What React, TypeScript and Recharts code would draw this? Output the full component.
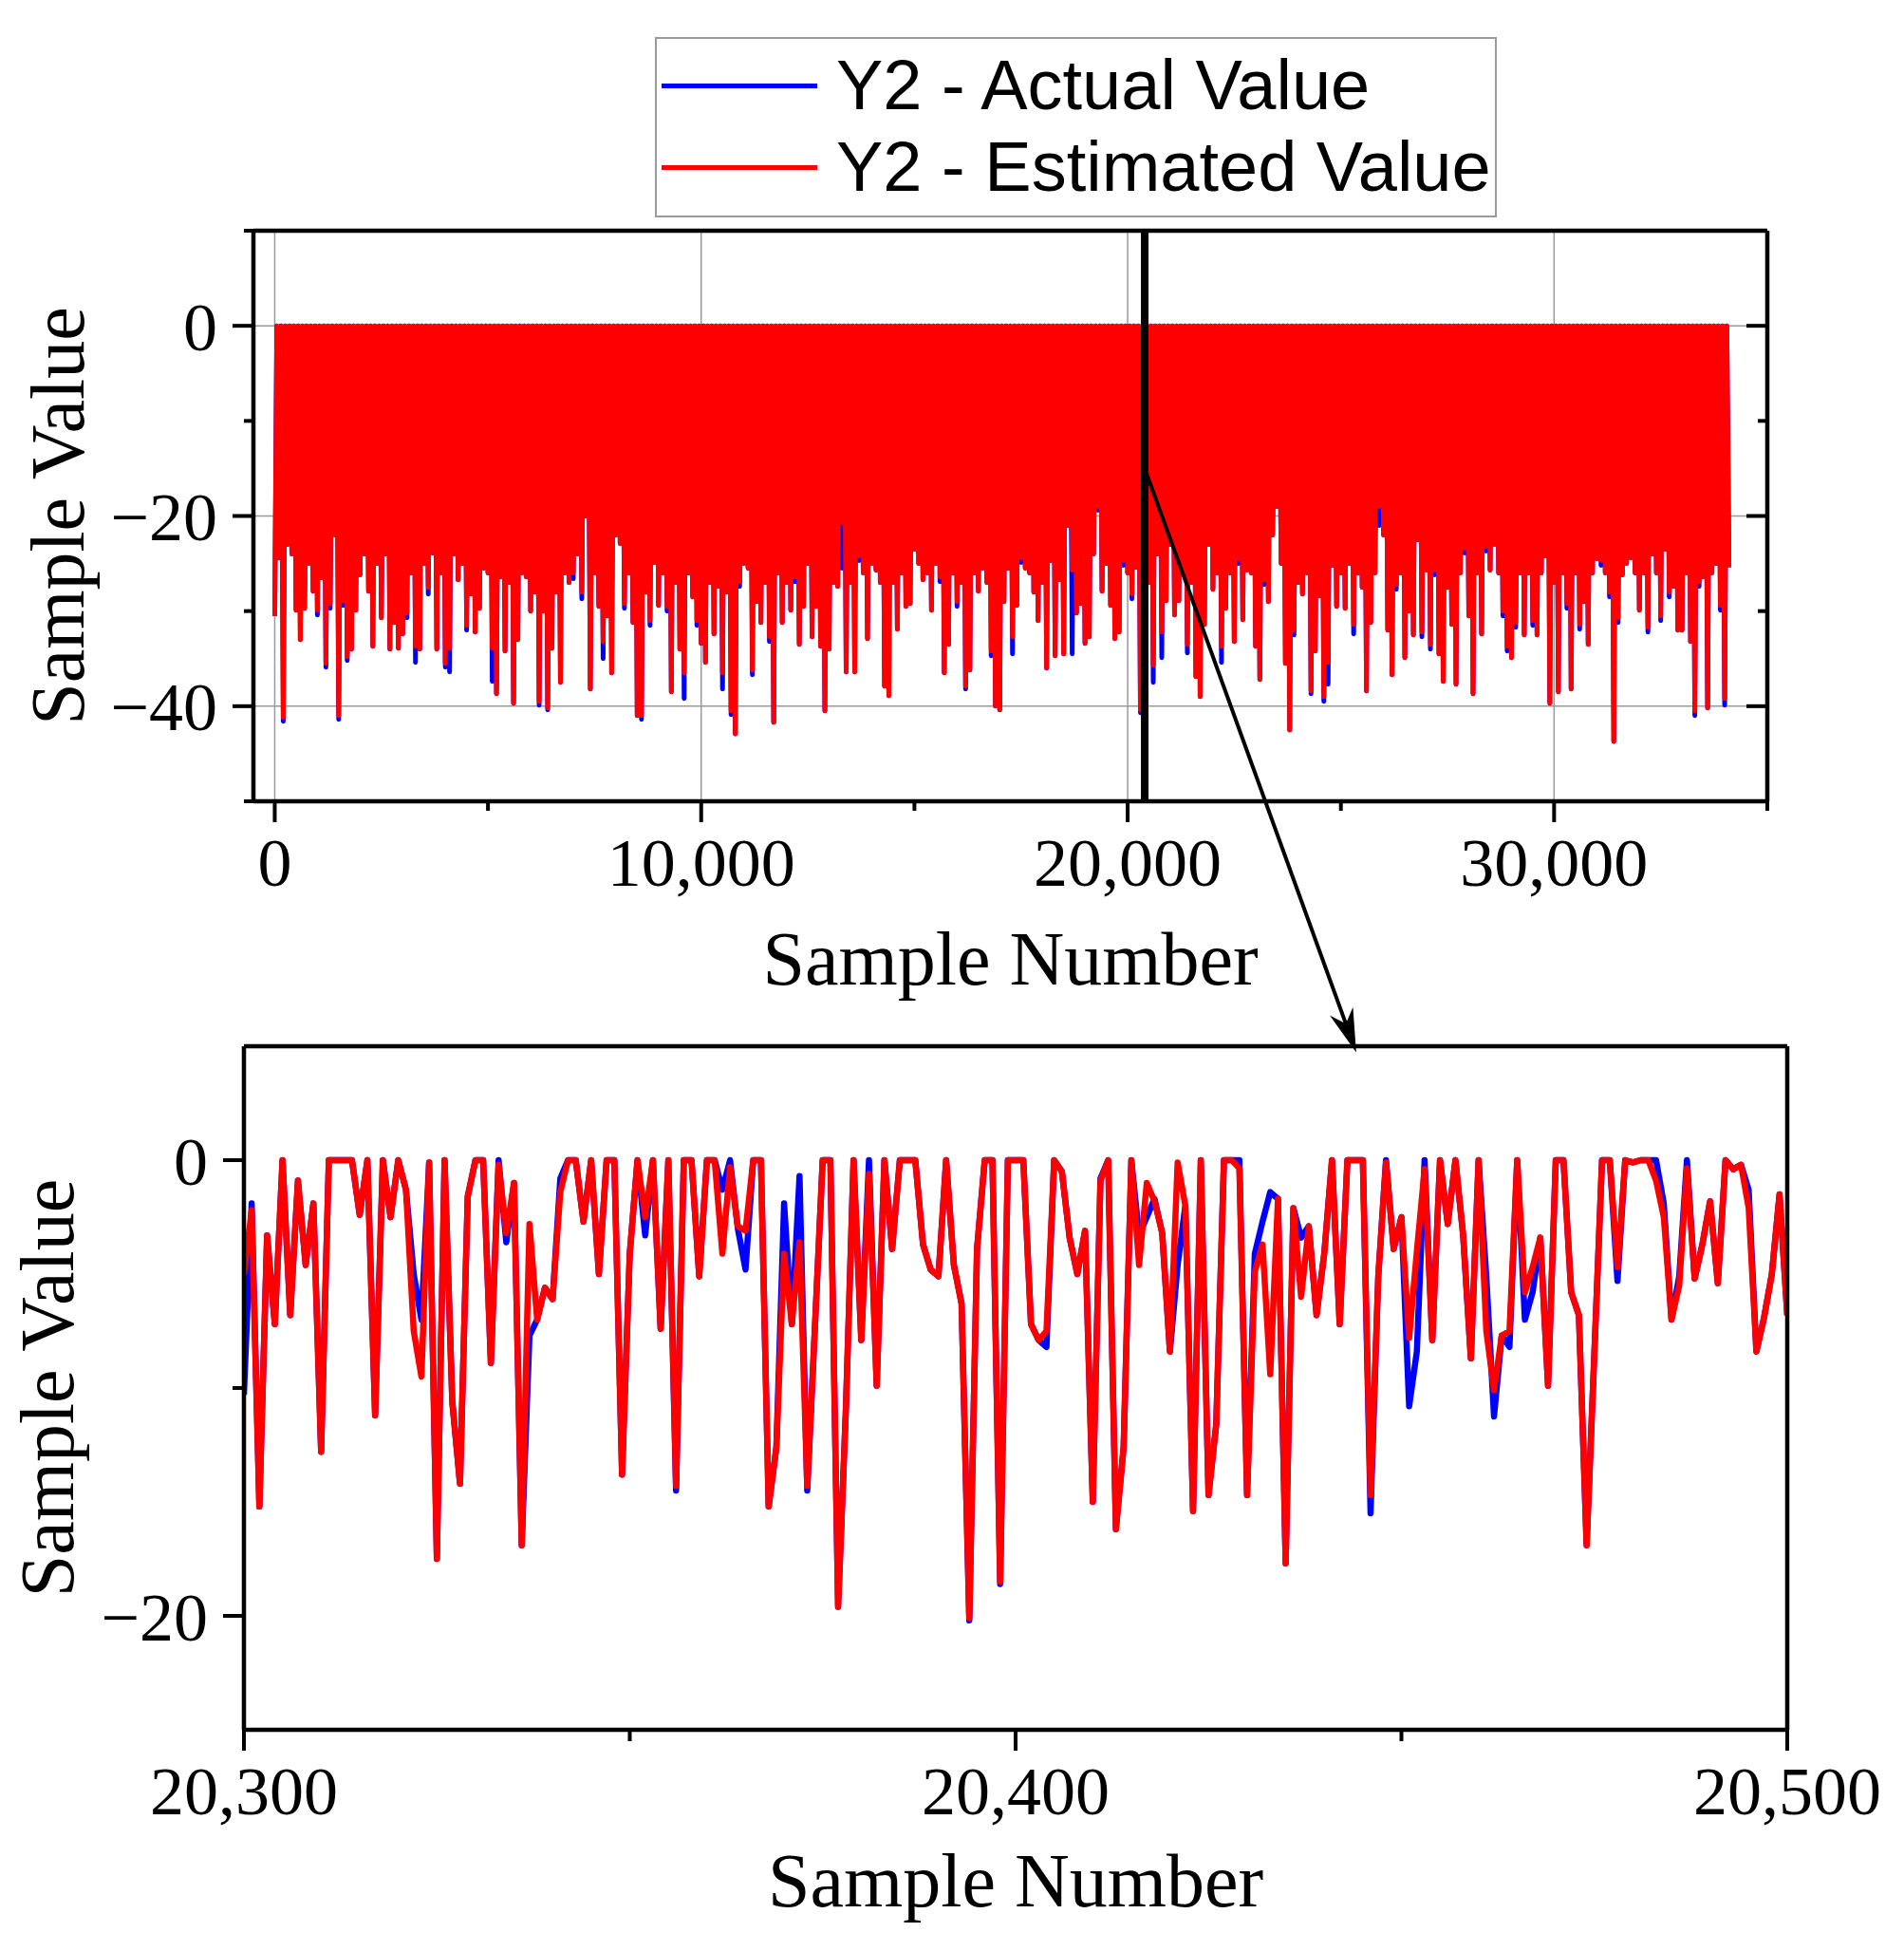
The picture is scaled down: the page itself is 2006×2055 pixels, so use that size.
import React from 'react';
import {
  ComposedChart,
  LineChart,
  Area,
  Line,
  XAxis,
  YAxis,
  CartesianGrid,
  ReferenceLine,
  Legend,
} from 'recharts';

const SERIF = "'Liberation Serif', 'Times New Roman', serif";
const SANS = "'Liberation Sans', Arial, sans-serif";
const RED = '#ff0000';
const BLUE = '#0000ff';
const ACTUAL_NAME = 'Y2 - Actual Value';
const ESTIMATED_NAME = 'Y2 - Estimated Value';

// ---------- Overview (top) chart data ----------
// Deepest dip read in each 100-sample window (Y2 - Estimated Value)
const TOP_SLOT_SAMPLES = 100;
const topEstimated = [
  -30.5, -24.4, -41.2, -23, -24.0, -29.9, -33.0, -29.7, -25, -27.9,
  -29.9, -26.5, -35.5, -29.2, -22, -41.0, -28.9, -34.8, -34.0, -29.9,
  -26.2, -24, -27.9, -33.7, -25, -30.7, -24, -34.0, -31.2, -33.9,
  -32.4, -30.2, -26, -33.7, -34.0, -25, -27.5, -23.9, -34.0, -26,
  -35.5, -33.9, -24, -26.7, -25, -31.5, -28.2, -32.2, -29.7, -25.5,
  -26, -33.9, -38.7, -26.4, -34.2, -27, -39.7, -33.0, -26, -26.4,
  -30.0, -28, -39.5, -30, -40.2, -33.9, -28.0, -37.5, -26, -27.0,
  -26.0, -24, -28.0, -20.0, -38.2, -26, -29.5, -33.2, -30.5, -36.5,
  -22, -22.9, -29.2, -26, -31.2, -41.0, -41.0, -28, -31.0, -24.9,
  -29.4, -26, -29.5, -38.5, -27, -34.0, -36.5, -26, -28.5, -31.0,
  -33.4, -35.4, -27, -32.4, -27.4, -36.5, -28, -40.5, -42.9, -26.9,
  -25, -25.5, -36.2, -29.0, -31.2, -27, -32.7, -41.7, -26, -31.2,
  -27, -29.9, -26.4, -33.5, -29.5, -25, -32.7, -29.5, -33.7, -40.5,
  -34.0, -27, -27.4, -20.7, -36.4, -27, -36.4, -24.2, -26, -32.9,
  -25, -25.7, -27, -37.9, -38.9, -27, -31.9, -26, -29.5, -29.2,
  -23.5, -25, -26.7, -26, -29.9, -25, -26.4, -36.5, -33.5, -26,
  -29.0, -27, -37.9, -36.2, -26, -27.9, -25.5, -27, -34.2, -40.0,
  -40.4, -29.0, -25.5, -32.7, -29.4, -24.4, -25.5, -26, -28.0, -31.0,
  -27, -36.0, -24.7, -34.7, -26.7, -34.5, -21.0, -25.7, -30.2, -29.2,
  -33.4, -32.7, -24, -19.0, -27.9, -25, -29.4, -32.9, -32.2, -24.7,
  -26, -28.2, -25.4, -40.4, -28, -27, -35.7, -24.0, -32.2, -28.9,
  -23.0, -30.4, -28.9, -26, -33.5, -27, -36.9, -39.0, -31.4, -23.0,
  -27.7, -26, -33.7, -29.7, -26, -33.2, -24.5, -30.9, -25.7, -26,
  -33.7, -37.2, -26.7, -29.0, -22.0, -19.0, -25, -35.5, -42.5, -32.0,
  -27, -28.2, -26, -38.4, -34.2, -28.4, -39.0, -35.4, -25.2, -29.5,
  -26, -29.7, -25.0, -31.4, -26, -27.5, -38.4, -31.2, -26, -19.0,
  -22, -32.0, -36.7, -27.2, -26, -34.9, -30.0, -32.5, -22.5, -32.2,
  -25.7, -33.5, -25.7, -34.5, -37.4, -27.5, -31.4, -37.7, -26, -23.4,
  -30.5, -38.7, -26, -32.4, -23.2, -25.7, -23.0, -26, -30.0, -33.7,
  -34.9, -31.2, -26.0, -32.5, -26, -31.0, -32.5, -26, -24.2, -39.7,
  -27, -38.5, -26, -29.2, -38.2, -26, -31.4, -29.0, -33.5, -26,
  -24.5, -24.7, -26, -28.0, -43.7, -30.7, -26.2, -25, -24.4, -26.0,
  -29.9, -26, -31.7, -24.0, -26, -30.5, -23.5, -28.0, -27.4, -32.0,
  -32.0, -26, -33.2, -40.5, -26.9, -26.4, -40.2, -26, -25, -29.4,
  -39.2, -25.4,
];
// Windows where the actual value dips deeper than the estimate: [window, actual]
const topActualDeeper: Array<[number, number]> = [
  [2, -41.6], [10, -30.4], [12, -35.9], [13, -29.7], [15, -41.4], [16, -29.4], [17, -35.2],
  [31, -30.7], [33, -35.4], [36, -28.2], [40, -35.9], [41, -36.4], [45, -32.0], [51, -37.4],
  [62, -39.9], [64, -40.4], [70, -26.6], [72, -28.7], [77, -35.0], [82, -29.7], [86, -41.4],
  [88, -31.5], [92, -30.0], [96, -39.2], [99, -31.5], [105, -38.2], [107, -40.9], [109, -27.4],
  [112, -36.7], [116, -33.2], [122, -26.9], [133, -25.5], [137, -24.7], [156, -26.9], [160, -29.5],
  [162, -38.2], [168, -34.7], [173, -34.5], [175, -24.9], [187, -34.5], [193, -19.4], [199, -25.2],
  [201, -28.7], [203, -40.7], [206, -37.5], [208, -34.9], [214, -34.4], [222, -35.4], [226, -25.0],
  [232, -27.2], [239, -32.5], [243, -38.7], [246, -39.5], [247, -37.7], [253, -32.4], [259, -21.0],
  [263, -27.7], [269, -32.7], [271, -34.0], [272, -26.2], [279, -23.9], [284, -23.7], [288, -30.5],
  [289, -34.2], [291, -31.7], [295, -31.5], [303, -29.7], [306, -31.9], [311, -25.2], [313, -28.5],
  [315, -31.2], [322, -32.2], [325, -31.0], [327, -28.5], [333, -41.0], [334, -27.4], [339, -29.9],
  [340, -39.9],
];
const topXDomain: [number, number] = [-500, 35000];
const topYDomain: [number, number] = [-50, 10];
const topXTicks = [0, 5000, 10000, 15000, 20000, 25000, 30000, 35000];
const topXMajor = [0, 10000, 20000, 30000];
const topYTicks = [10, 0, -10, -20, -30, -40, -50];
const topYMajor = [0, -20, -40];
const zoomMarkerSample = 20400;
const arrowFrom = { x: 20400, y: -15 };
const arrowTo = { x: 25360, y: -76.4 };

// ---------- Zoomed (bottom) chart data: samples 20,300 … 20,500 ----------
const zoomStartSample = 20300;
const zoomEstimated = [
  -5.0, -2.2, -15.2, -3.3, -7.2, 0, -6.8, -0.9, -4.6, -1.9,
  -12.8, 0, 0, 0, 0, -2.4, 0, -11.2, 0, -2.5,
  0, -1.3, -7.5, -9.5, -0.1, -17.5, 0, -10.6, -14.2, -1.6,
  0, 0, -8.9, -0.2, -3.2, -1.0, -16.9, -2.8, -7.0, -5.6,
  -6.1, -1.4, 0, 0, -2.7, 0, -5.0, 0, 0, -13.8,
  -4.1, 0, -2.5, 0, -7.4, 0, -14.3, 0, 0, -5.1,
  0, 0, -4.1, -0.3, -2.9, -3.1, 0, 0, -15.2, -12.6,
  -4.1, -7.2, -3.6, -14.3, -7.3, 0, 0, -19.6, -11.0, 0,
  -7.9, -0.6, -9.9, 0, -3.9, 0, 0, 0, -3.7, -4.8,
  -5.1, 0, -4.6, -6.3, -20.1, -3.9, 0, 0, -18.5, 0,
  0, 0, -7.2, -7.9, -7.5, 0, -0.5, -3.4, -5.0, -3.1,
  -15.0, -0.9, 0, -16.2, -12.6, 0, -4.6, -1.0, -1.8, -3.2,
  -8.4, -0.1, -2.0, -15.4, 0, -14.7, -11.6, 0, 0, -0.35,
  -14.7, -4.9, -3.7, -9.4, -1.7, -17.7, -2.1, -6.0, -2.9, -6.8,
  -4.1, 0, -7.2, 0, 0, 0, -14.7, -5.1, -0.1, -3.9,
  -2.5, -7.8, -4.0, -0.4, -7.9, 0, -2.8, 0, -3.3, -8.7,
  0, -7.5, -10.1, -7.7, -7.5, 0, -5.8, -4.7, -3.4, -9.9,
  0, 0, -5.8, -6.8, -16.9, -8.5, 0, 0, -4.7, 0,
  -0.1, 0, 0, -0.9, -2.5, -7.0, -5.5, -0.35, -5.2, -3.7,
  -1.8, -5.4, 0, -0.4, -0.2, -2.1, -8.4, -6.9, -5.0, -1.5,
  -6.8,
];
const zoomActual = [
  -10.3, -1.9, -15.2, -3.3, -7.2, 0, -6.8, -0.9, -4.6, -1.9,
  -12.8, 0, 0, 0, 0, -2.4, 0, -11.2, 0, -2.5,
  0, -1.3, -5.0, -7.0, -0.1, -17.5, 0, -10.6, -14.2, -1.6,
  0, 0, -8.9, 0, -3.6, -1.0, -16.9, -7.7, -7.0, -5.6,
  -6.1, -0.8, 0, 0, -2.7, 0, -5.0, 0, 0, -13.8,
  -4.1, 0, -3.3, 0, -7.4, 0, -14.5, 0, 0, -5.1,
  0, 0, -1.3, 0, -3.0, -4.8, 0, 0, -15.2, -12.6,
  -1.9, -7.2, -0.7, -14.5, -7.3, 0, 0, -19.6, -11.0, 0,
  -7.9, 0, -9.9, 0, -3.9, 0, 0, 0, -3.7, -4.8,
  -5.1, 0, -4.6, -6.3, -20.2, -3.9, 0, 0, -18.6, 0,
  0, 0, -7.2, -7.9, -8.2, 0, -0.5, -3.4, -5.0, -3.1,
  -15.0, -0.8, 0, -16.2, -12.6, 0, -3.3, -2.5, -1.7, -3.2,
  -8.4, -4.6, -2.0, -15.4, 0, -14.7, -11.6, 0, 0, 0,
  -14.7, -4.1, -2.7, -1.4, -1.7, -17.7, -2.1, -3.4, -2.9, -6.8,
  -4.1, 0, -7.2, 0, 0, 0, -15.5, -5.1, 0, -3.9,
  -2.5, -10.8, -8.4, 0, -7.9, 0, -2.8, 0, -3.3, -8.7,
  0, -5.1, -11.25, -7.7, -8.2, 0, -7.0, -5.8, -3.4, -9.9,
  0, 0, -5.8, -6.8, -16.9, -8.5, 0, 0, -5.3, 0,
  -0.1, 0, 0, 0, -1.9, -7.0, -5.1, 0, -5.2, -3.7,
  -1.8, -5.4, 0, -0.4, -0.2, -1.3, -8.4, -6.9, -5.0, -1.5,
  -6.8,
];
const zoomXDomain: [number, number] = [20300, 20500];
const zoomYDomain: [number, number] = [-25, 5];
const zoomXTicks = [20300, 20350, 20400, 20450, 20500];
const zoomXMajor = [20300, 20400, 20500];
const zoomYTicks = [0, -10, -20];
const zoomYMajor = [0, -20];

// ---------- tables built from the arrays ----------
const actualOverride = new Map<number, number>(topActualDeeper);
const topData: Array<{ sample: number; estimated: number; actual: number }> = [];
topEstimated.forEach((v, i) => {
  const s = i * TOP_SLOT_SAMPLES;
  topData.push({ sample: s, estimated: v, actual: actualOverride.get(i) ?? v });
  if (i < topEstimated.length - 1) {
    topData.push({ sample: s + TOP_SLOT_SAMPLES / 2, estimated: 0, actual: 0 });
  }
});
const zoomData = zoomEstimated.map((v, k) => ({
  sample: zoomStartSample + k,
  estimated: v,
  actual: zoomActual[k],
}));

// ---------- axis helpers ----------
const TICK_MAJOR = 22;
const TICK_MARGIN = 16;
const TICK_W = 4;
const AXIS_LINE = { stroke: '#000', strokeWidth: 4.5 };
const TICK_FONT = 72;
const TITLE_FONT = 80;

const fmt = (v: number) => (v < 0 ? '\u2212' : '') + Math.abs(v).toLocaleString('en-US');

function yTick(majors: number[], minorLen: number, labels: boolean) {
  return (props: any) => {
    const { x, y, payload } = props;
    const v = payload.value;
    const major = majors.includes(v);
    const ax = x + TICK_MAJOR + TICK_MARGIN;
    const len = major ? TICK_MAJOR : minorLen;
    return (
      <g>
        <line x1={ax} y1={y} x2={ax - len} y2={y} stroke="#000" strokeWidth={TICK_W} />
        {labels && major ? (
          <text x={x} y={y} dy="0.355em" textAnchor="end" fontFamily={SERIF} fontSize={TICK_FONT} fill="#000">
            {fmt(v)}
          </text>
        ) : null}
      </g>
    );
  };
}

function xTick(majors: number[], minorLen: number, labels: boolean) {
  return (props: any) => {
    const { x, y, payload } = props;
    const v = payload.value;
    const major = majors.includes(v);
    const ay = y - TICK_MAJOR - TICK_MARGIN;
    const len = major ? TICK_MAJOR : minorLen;
    return (
      <g>
        <line x1={x} y1={ay} x2={x} y2={ay + len} stroke="#000" strokeWidth={TICK_W} />
        {labels && major ? (
          <text x={x} y={y} dy="0.71em" textAnchor="middle" fontFamily={SERIF} fontSize={TICK_FONT} fill="#000">
            {fmt(v)}
          </text>
        ) : null}
      </g>
    );
  };
}

const noTick = () => <g />;

function yTitle(baselineX: number) {
  return (props: any) => {
    const vb = props.viewBox || {};
    const cx = (vb.x || 0) + baselineX;
    const cy = (vb.y || 0) + (vb.height || 0) / 2;
    return (
      <text x={cx} y={cy} transform={`rotate(-90, ${cx}, ${cy})`} textAnchor="middle" fontFamily={SERIF} fontSize={TITLE_FONT} fill="#000">
        Sample Value
      </text>
    );
  };
}

function xTitle(baselineOffset: number) {
  return (props: any) => {
    const vb = props.viewBox || {};
    const cx = (vb.x || 0) + (vb.width || 0) / 2;
    const cy = (vb.y || 0) + baselineOffset;
    return (
      <text x={cx} y={cy} textAnchor="middle" fontFamily={SERIF} fontSize={TITLE_FONT} fill="#000">
        Sample Number
      </text>
    );
  };
}

const ArrowShape = (props: any) => {
  const { x1, y1, x2, y2 } = props;
  const dx = x2 - x1;
  const dy = y2 - y1;
  const len = Math.hypot(dx, dy) || 1;
  const ux = dx / len;
  const uy = dy / len;
  const nx = -uy;
  const ny = ux;
  const L = 46;
  const W = 13;
  const notch = 32;
  const bx = x2 - ux * L;
  const by = y2 - uy * L;
  const pts = [
    [x2, y2],
    [bx + nx * W, by + ny * W],
    [x2 - ux * notch, y2 - uy * notch],
    [bx - nx * W, by - ny * W],
  ];
  return (
    <g>
      <line x1={x1} y1={y1} x2={x2 - ux * notch} y2={y2 - uy * notch} stroke="#000" strokeWidth={4} />
      <polygon points={pts.map((p) => p.join(',')).join(' ')} fill="#000" />
    </g>
  );
};

const renderLegend = (props: any) => {
  const payload = props.payload || [];
  return (
    <div
      style={{
        boxSizing: 'border-box',
        width: 887,
        height: 190,
        border: '2px solid #9a9a9a',
        background: '#fff',
        paddingTop: 6,
      }}
    >
      {payload.map((entry: any) => (
        <div key={entry.value} style={{ display: 'flex', alignItems: 'center', height: 86 }}>
          <div style={{ width: 164, height: 5, background: entry.color, marginLeft: 5 }} />
          <span style={{ marginLeft: 20, fontFamily: SANS, fontSize: 74, lineHeight: 1, color: '#000', whiteSpace: 'nowrap' }}>
            {entry.value}
          </span>
        </div>
      ))}
    </div>
  );
};

export default function App() {
  return (
    <div style={{ position: 'absolute', left: 0, top: 0, width: 2006, height: 2055, background: '#fff' }}>
      {/* Zoomed chart */}
      <div style={{ position: 'absolute', left: 0, top: 1040 }}>
        <LineChart width={2006} height={1015} data={zoomData} margin={{ top: 62, right: 123, bottom: 0, left: 0 }}>
          <XAxis
            dataKey="sample"
            type="number"
            domain={zoomXDomain}
            ticks={zoomXTicks}
            interval={0}
            allowDataOverflow
            height={233}
            tickSize={TICK_MAJOR}
            tickMargin={TICK_MARGIN}
            tickLine={false}
            axisLine={AXIS_LINE}
            tick={xTick(zoomXMajor, 12, true)}
            label={{ content: xTitle(186) }}
          />
          <XAxis
            xAxisId="top"
            orientation="top"
            mirror
            type="number"
            domain={zoomXDomain}
            ticks={zoomXTicks}
            interval={0}
            allowDataOverflow
            height={1}
            tick={noTick}
            tickLine={false}
            axisLine={AXIS_LINE}
          />
          <YAxis
            type="number"
            domain={zoomYDomain}
            ticks={zoomYTicks}
            interval={0}
            allowDataOverflow
            width={257}
            tickSize={TICK_MAJOR}
            tickMargin={TICK_MARGIN}
            tickLine={false}
            axisLine={AXIS_LINE}
            tick={yTick(zoomYMajor, 12, true)}
            label={{ content: yTitle(77) }}
          />
          <YAxis
            yAxisId="right"
            orientation="right"
            mirror
            type="number"
            domain={zoomYDomain}
            ticks={zoomYTicks}
            interval={0}
            allowDataOverflow
            width={1}
            tick={noTick}
            tickLine={false}
            axisLine={AXIS_LINE}
          />
          <Line
            type="linear"
            dataKey="actual"
            name={ACTUAL_NAME}
            stroke={BLUE}
            strokeWidth={6.5}
            strokeLinejoin="round"
            dot={false}
            activeDot={false}
            isAnimationActive={false}
          />
          <Line
            type="linear"
            dataKey="estimated"
            name={ESTIMATED_NAME}
            stroke={RED}
            strokeWidth={6.5}
            strokeLinejoin="round"
            dot={false}
            activeDot={false}
            isAnimationActive={false}
          />
        </LineChart>
      </div>

      {/* Overview chart */}
      <div style={{ position: 'absolute', left: 0, top: 0 }}>
        <ComposedChart width={2006} height={1130} data={topData} margin={{ top: 243, right: 144, bottom: 0, left: 0 }}>
          <CartesianGrid stroke="#9a9a9a" strokeWidth={1.5} verticalValues={topXMajor} horizontalValues={topYMajor} />
          <XAxis
            dataKey="sample"
            type="number"
            domain={topXDomain}
            ticks={topXTicks}
            interval={0}
            allowDataOverflow
            height={286}
            tickSize={TICK_MAJOR}
            tickMargin={TICK_MARGIN}
            tickLine={false}
            axisLine={AXIS_LINE}
            tick={xTick(topXMajor, 10, true)}
            label={{ content: xTitle(193) }}
          />
          <XAxis
            xAxisId="top"
            orientation="top"
            mirror
            type="number"
            domain={topXDomain}
            ticks={topXTicks}
            interval={0}
            allowDataOverflow
            height={1}
            tickSize={TICK_MAJOR}
            tickMargin={TICK_MARGIN}
            tickLine={false}
            axisLine={AXIS_LINE}
            tick={xTick(topXMajor, 10, false)}
          />
          <YAxis
            type="number"
            domain={topYDomain}
            ticks={topYTicks}
            interval={0}
            allowDataOverflow
            width={267}
            tickSize={TICK_MAJOR}
            tickMargin={TICK_MARGIN}
            tickLine={false}
            axisLine={AXIS_LINE}
            tick={yTick(topYMajor, 10, true)}
            label={{ content: yTitle(88) }}
          />
          <YAxis
            yAxisId="right"
            orientation="right"
            mirror
            type="number"
            domain={topYDomain}
            ticks={topYTicks}
            interval={0}
            allowDataOverflow
            width={1}
            tickSize={TICK_MAJOR}
            tickMargin={TICK_MARGIN}
            tickLine={false}
            axisLine={AXIS_LINE}
            tick={yTick(topYMajor, 10, false)}
          />
          <Legend
            layout="vertical"
            verticalAlign="middle"
            align="center"
            content={renderLegend}
            wrapperStyle={{ position: 'absolute', left: 690, top: 39, width: 887, height: 190 }}
          />
          <Area
            type="linear"
            dataKey="actual"
            name={ACTUAL_NAME}
            stroke={BLUE}
            fill={BLUE}
            fillOpacity={1}
            strokeWidth={5}
            strokeLinejoin="round"
            baseValue={0}
            dot={false}
            activeDot={false}
            isAnimationActive={false}
          />
          <Area
            type="linear"
            dataKey="estimated"
            name={ESTIMATED_NAME}
            stroke={RED}
            fill={RED}
            fillOpacity={1}
            strokeWidth={5}
            strokeLinejoin="round"
            baseValue={0}
            dot={false}
            activeDot={false}
            isAnimationActive={false}
          />
          <ReferenceLine x={zoomMarkerSample} stroke="#000" strokeWidth={8} />
          <ReferenceLine segment={[arrowFrom, arrowTo]} ifOverflow="visible" shape={ArrowShape} />
        </ComposedChart>
      </div>
    </div>
  );
}
